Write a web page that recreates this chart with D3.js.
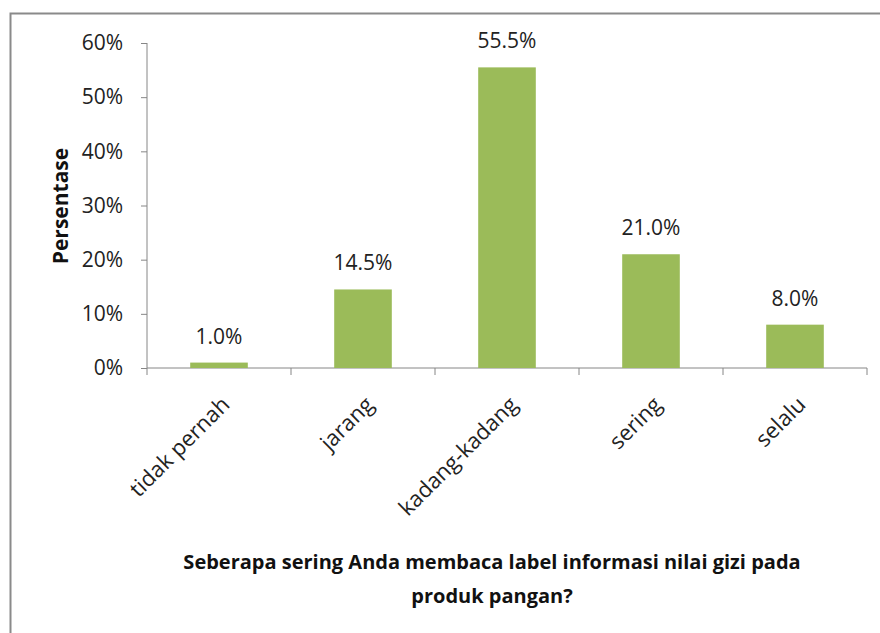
<!DOCTYPE html>
<html>
<head>
<meta charset="utf-8">
<script src="https://cdn.jsdelivr.net/npm/d3@7"></script>
<style>
  body { margin: 0; background: #fff; }
  svg { display: block; font-family: "Open Sans", "Noto Sans", sans-serif; }
</style>
</head>
<body>
<div id="chart"></div>
<script>

var categories = ["tidak pernah", "jarang", "kadang-kadang", "sering", "selalu"];
var values = [1.0, 14.5, 55.5, 21.0, 8.0];
var yTicks = [0, 10, 20, 30, 40, 50, 60];

function drawChart() {

    var width = 880,
        height = 633;

    var plotLeft = 147, plotRight = 867, plotTop = 43, plotBottom = 368;

    var svg = d3.select("#chart")
        .append("svg")
        .attr("width", width)
        .attr("height", height);

    // outer frame (only left & top are visible in the picture)
    svg.append("path")
        .attr("d", "M10.5," + height + " V13.5 H" + width)
        .attr("fill", "none")
        .attr("stroke", "#8a8a8a")
        .attr("stroke-width", 2);

    var x = d3.scaleBand()
        .domain(categories)
        .range([plotLeft, plotRight])
        .paddingInner(0.6)
        .paddingOuter(0.3);

    var y = d3.scaleLinear()
        .domain([0, 60])
        .range([plotBottom, plotTop]);

    // y axis
    var yAxis = svg.append("g")
        .attr("transform", "translate(" + plotLeft + ",0)")
        .call(d3.axisLeft(y)
            .tickValues(yTicks)
            .tickSize(6)
            .tickPadding(6)
            .tickFormat(function (d) { return d + "%"; }));

    yAxis.select(".domain").attr("stroke", "#868686").attr("d", "M0," + plotTop + "V" + plotBottom);
    yAxis.selectAll(".tick line").attr("stroke", "#868686");
    yAxis.selectAll(".tick text")
        .attr("font-size", 21)
        .attr("fill", "#222")
        .attr("font-family", "Open Sans, sans-serif")
        .attr("x", -24);

    // x axis
    var xAxis = svg.append("g")
        .attr("transform", "translate(0," + plotBottom + ")")
        .call(d3.axisBottom(x).tickSize(0).tickFormat(""));
    xAxis.select(".domain").attr("stroke", "#868686").attr("d", "M" + plotLeft + ",0H" + plotRight);

    // category boundary ticks
    var bounds = d3.range(categories.length + 1).map(function (i) {
        return plotLeft + i * x.step();
    });
    xAxis.selectAll("line.bound")
        .data(bounds)
        .enter()
        .append("line")
        .attr("class", "bound")
        .attr("x1", function (d) { return d; })
        .attr("x2", function (d) { return d; })
        .attr("y1", 0)
        .attr("y2", 7)
        .attr("stroke", "#868686");

    // bars
    svg.selectAll("rect.bar")
        .data(values)
        .enter()
        .append("rect")
        .attr("class", "bar")
        .attr("x", function (d, i) { return x(categories[i]); })
        .attr("y", function (d) { return y(d); })
        .attr("width", x.bandwidth())
        .attr("height", function (d) { return plotBottom - y(d); })
        .attr("fill", "#9bbb59");

    // value labels
    svg.selectAll("text.val")
        .data(values)
        .enter()
        .append("text")
        .attr("class", "val")
        .attr("x", function (d, i) { return x(categories[i]) + x.bandwidth() / 2; })
        .attr("y", function (d) { return y(d) - 19; })
        .attr("text-anchor", "middle")
        .attr("font-size", 21)
        .attr("fill", "#222")
        .text(function (d) { return d.toFixed(1) + "%"; });

    // rotated category labels
    svg.selectAll("text.cat")
        .data(categories)
        .enter()
        .append("text")
        .attr("class", "cat")
        .attr("text-anchor", "end")
        .attr("font-size", 22)
        .attr("fill", "#222")
        .attr("transform", function (d) {
            var cx = x(d) + x.bandwidth() / 2 + 12;
            return "translate(" + cx + "," + (plotBottom + 38) + ") rotate(-45)";
        })
        .text(function (d) { return d; });

    // y title
    svg.append("text")
        .attr("transform", "translate(68,206) rotate(-90)")
        .attr("text-anchor", "middle")
        .attr("font-size", 21)
        .attr("font-weight", "bold")
        .attr("fill", "#111")
        .text("Persentase");

    // x title
    var xt = svg.append("text")
        .attr("text-anchor", "middle")
        .attr("font-size", 20)
        .attr("font-weight", "bold")
        .attr("fill", "#111");
    xt.append("tspan").attr("x", 492).attr("y", 569)
        .text("Seberapa sering Anda membaca label informasi nilai gizi pada");
    xt.append("tspan").attr("x", 492).attr("y", 603)
        .text("produk pangan?");
}

drawChart();

</script>
</body>
</html>
